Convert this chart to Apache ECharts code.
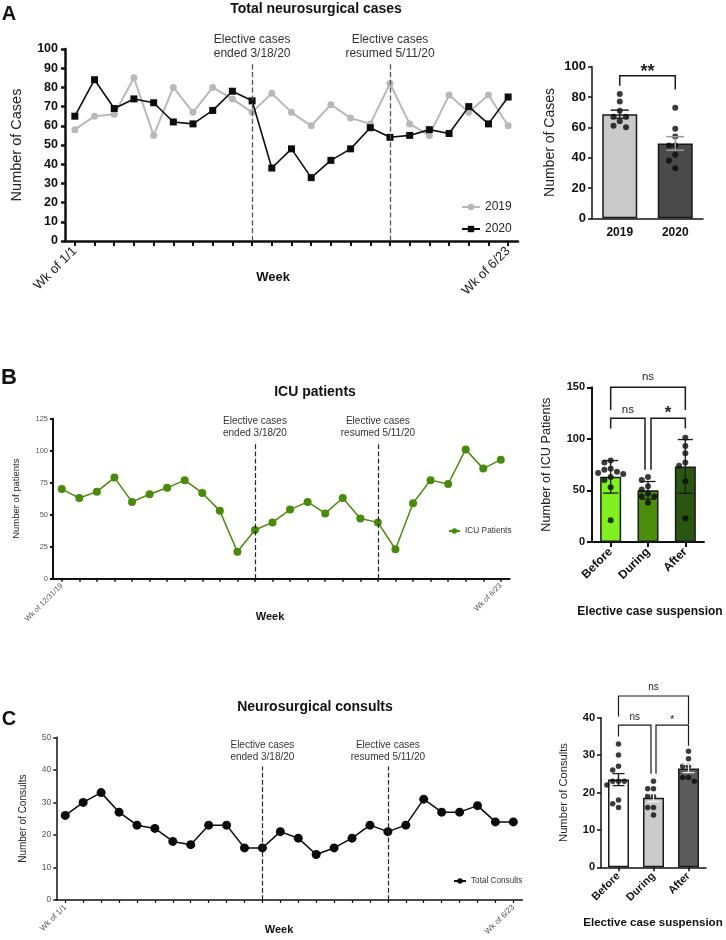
<!DOCTYPE html>
<html><head><meta charset="utf-8">
<script src="https://cdn.jsdelivr.net/npm/echarts@6.0.0/dist/echarts.min.js"></script>
<style>html,body{margin:0;padding:0;background:#fff}#chart{width:726px;height:940px}</style>
</head><body><div id="chart"></div>
<script>
// ---------------- DATA ----------------
const weekLabelsA = ['Wk of 1/1', 'Wk of 6/23'];
const cases2019 = [58, 65, 66, 85, 55, 80, 67, 80, 74, 67, 77, 67, 60, 71, 64, 61, 82, 61, 55, 76, 67, 76, 60];
const cases2020 = [65, 84, 69, 74, 72, 62, 61, 68, 78, 73, 38, 48, 33, 42, 48, 59, 54, 55, 58, 56, 70, 61, 75];
const eventWeeksA = [9, 16];
const yearCategories = ['2019', '2020'];

const weekLabelsB = ['Wk of 12/31/19', 'Wk of 6/23'];
const icuPatients = [70, 63, 68, 79, 60, 66, 71, 77, 67, 53, 21, 38, 44, 54, 60, 51, 63, 47, 44, 23, 59, 77, 74, 101, 86, 93];

const weekLabelsC = ['Wk of 1/1', 'Wk of 6/23'];
const totalConsults = [26, 30, 33, 27, 23, 22, 18, 17, 23, 23, 16, 16, 21, 19, 14, 16, 19, 23, 21, 23, 31, 27, 27, 29, 24, 24];
const eventWeeksBC = [11, 18];

const phaseCategories = ['Before', 'During', 'After'];
const eventLabels = ['Elective cases\nended 3/18/20', 'Elective cases\nresumed 5/11/20'];

// ---------------- HELPERS ----------------
const FONT = '"Liberation Sans", Arial, Helvetica, sans-serif';
const mean = a => a.reduce((s, v) => s + v, 0) / a.length;
const sd = a => { const m = mean(a); return Math.sqrt(a.reduce((s, v) => s + (v - m) ** 2, 0) / (a.length - 1)); };
const sem = a => sd(a) / Math.sqrt(a.length);

function weekCats(n, labels) {
  return Array.from({ length: n }, (_, i) => i === 0 ? labels[0] : (i === n - 1 ? labels[1] : 'Week ' + (i + 1)));
}
const catsA = weekCats(cases2019.length, weekLabelsA);
const catsB = weekCats(icuPatients.length, weekLabelsB);
const catsC = weekCats(totalConsults.length, weekLabelsC);

const groupsA = [cases2019.slice(eventWeeksA[0], eventWeeksA[1] + 1), cases2020.slice(eventWeeksA[0], eventWeeksA[1] + 1)];
const splitPhases = (arr, ev) => [arr.slice(0, ev[0]), arr.slice(ev[0], ev[1] + 1), arr.slice(ev[1] + 1)];
const groupsB = splitPhases(icuPatients, eventWeeksBC);
const groupsC = splitPhases(totalConsults, eventWeeksBC);

function swarmOffsets(vals, pxPerUnit, diam) {
  const placed = [], offs = [];
  const order = vals.map((v, i) => i).sort((a, b) => vals[b] - vals[a]);
  const cands = [0, -1, 1, -2, 2, -3, 3].map(k => k * diam * 0.95);
  order.forEach(i => {
    const y = vals[i] * pxPerUnit;
    let chosen = cands[cands.length - 1];
    for (const c of cands) {
      if (placed.every(p => Math.hypot(p.x - c, p.y - y) >= diam * 0.95)) { chosen = c; break; }
    }
    placed.push({ x: chosen, y }); offs[i] = chosen;
  });
  return offs;
}

function weekXAxis(gridIndex, cats, st) {
  return {
    type: 'category', gridIndex, data: cats, boundaryGap: true,
    axisLine: { show: true, onZero: false, lineStyle: { color: '#111', width: st.lw } },
    axisTick: { show: true, alignWithLabel: true, interval: 0, length: st.tick, lineStyle: { color: '#111', width: st.tw } },
    axisLabel: { show: true, interval: (i) => i === 0 || i === cats.length - 1, rotate: 45, fontSize: st.fs, color: st.lc, fontFamily: FONT, margin: st.margin },
    splitLine: { show: false }
  };
}
function catXAxis(gridIndex, cats, st) {
  return {
    type: 'category', gridIndex, data: cats, boundaryGap: true,
    axisLine: { show: true, onZero: false, lineStyle: { color: '#111', width: st.lw } },
    axisTick: { show: st.tick > 0, alignWithLabel: true, length: st.tick, lineStyle: { color: '#111', width: st.lw } },
    axisLabel: { interval: 0, rotate: st.rotate, fontSize: st.fs, fontWeight: 'bold', color: '#111', fontFamily: FONT, margin: st.margin },
    splitLine: { show: false }
  };
}
function valYAxis(gridIndex, min, max, interval, st) {
  return {
    type: 'value', gridIndex, min, max, interval,
    axisLine: { show: true, lineStyle: { color: '#111', width: st.lw } },
    axisTick: { show: true, length: st.tick, lineStyle: { color: '#111', width: st.lw } },
    axisLabel: { fontSize: st.fs, fontWeight: st.fw, color: st.lc, fontFamily: FONT, margin: st.margin },
    splitLine: { show: false },
    name: st.name, nameLocation: 'middle', nameGap: st.nameGap,
    nameTextStyle: { fontSize: st.nameFs, color: '#222', fontFamily: FONT }
  };
}
function eventMarkLine(ev, top, st) {
  return {
    silent: true, symbol: ['none', 'none'], animation: false,
    lineStyle: { type: 'dashed', color: st.color, width: st.width },
    label: { show: true, position: 'end', distance: st.dist, fontSize: st.fs, lineHeight: st.lh, color: '#333', fontFamily: FONT },
    emphasis: { disabled: true },
    data: ev.map((w, k) => [{ coord: [w, 0], label: { formatter: eventLabels[k] } }, { coord: [w, top] }])
  };
}
function barSeries(ax, groups, colors, width) {
  return {
    type: 'bar', name: 'bar' + ax, xAxisIndex: ax, yAxisIndex: ax, barWidth: width, z: 2, silent: true,
    data: groups.map((g, i) => ({ value: mean(g), itemStyle: { color: colors[i] } })),
    itemStyle: { borderColor: '#1a1a1a', borderWidth: 1.5 }
  };
}
function dotSeries(ax, groups, pxPerUnit, size) {
  const data = [];
  groups.forEach((g, gi) => {
    const offs = swarmOffsets(g, pxPerUnit, size + 0.6);
    g.forEach((v, i) => data.push({ value: [gi, v], symbolOffset: [offs[i], 0] }));
  });
  return { type: 'scatter', name: 'dots' + ax, xAxisIndex: ax, yAxisIndex: ax, symbol: 'circle', symbolSize: size, z: 3, silent: true,
    itemStyle: { color: '#0a0a0a' }, data };
}
function errSeries(ax, groups, errFn, colors, capHalf, lw) {
  return {
    type: 'custom', name: 'err' + ax, xAxisIndex: ax, yAxisIndex: ax, z: 4, clip: false, silent: true,
    data: groups.map((g, i) => [i, mean(g), errFn(g)]),
    renderItem: (params, api) => {
      const i = api.value(0), m = api.value(1), e = api.value(2);
      const t = api.coord([i, m + e]), b = api.coord([i, m - e]);
      const stl = { stroke: colors[params.dataIndex], lineWidth: lw };
      return { type: 'group', children: [
        { type: 'line', shape: { x1: t[0], y1: t[1], x2: b[0], y2: b[1] }, style: stl },
        { type: 'line', shape: { x1: t[0] - capHalf, y1: t[1], x2: t[0] + capHalf, y2: t[1] }, style: stl },
        { type: 'line', shape: { x1: b[0] - capHalf, y1: b[1], x2: b[0] + capHalf, y2: b[1] }, style: stl }
      ] };
    }
  };
}
function bracketSeries(ax, list, lw) {
  return {
    type: 'custom', name: 'br' + ax, xAxisIndex: ax, yAxisIndex: ax, z: 5, clip: false, silent: true,
    data: list.map(b => [b.from, b.top]),
    renderItem: (params, api) => {
      const b = list[params.dataIndex];
      const pL = api.coord([b.from, b.top]), pR = api.coord([b.to, b.top]);
      const x1 = pL[0] + (b.dxL || 0), x2 = pR[0] + (b.dxR || 0), yT = pL[1];
      const yl = api.coord([b.from, b.left])[1], yr = api.coord([b.to, b.right])[1];
      return { type: 'group', children: [
        { type: 'polyline', shape: { points: [[x1, yl], [x1, yT], [x2, yT], [x2, yr]] }, style: { stroke: '#1a1a1a', lineWidth: lw, fill: 'none' } },
        { type: 'text', x: (x1 + x2) / 2, y: yT - b.gap, style: { text: b.text, fill: '#222', fontSize: b.fs, fontWeight: b.fw, fontFamily: FONT, align: 'center', verticalAlign: 'middle' } }
      ] };
    }
  };
}
function txt(text, x, y, size, weight) {
  return { type: 'text', x, y, silent: true,
    style: { text, fill: '#111', fontSize: size, fontWeight: weight, fontFamily: FONT, align: 'center', verticalAlign: 'middle', textAlign: 'center', textVerticalAlign: 'middle' } };
}

// ---------------- OPTION ----------------
const option = {
  animation: false,
  backgroundColor: '#ffffff',
  textStyle: { fontFamily: FONT },
  grid: [
    { left: 65, top: 49, width: 453, height: 192 },        // A line
    { left: 592, top: 66.7, width: 111, height: 151.6 },   // A bar
    { left: 53, top: 418.7, width: 456.6, height: 160 },   // B line
    { left: 592, top: 387.3, width: 112, height: 154.7 },  // B bar
    { left: 56.3, top: 737.3, width: 466, height: 162.7 }, // C line
    { left: 601, top: 717.7, width: 105, height: 149.6 }   // C bar
  ],
  xAxis: [
    weekXAxis(0, catsA, { lw: 2.5, tick: 5, tw: 2, fs: 13, lc: '#222', margin: 8 }),
    catXAxis(1, yearCategories, { lw: 1.5, tick: 0, fs: 12, rotate: 0, margin: 8 }),
    weekXAxis(2, catsB, { lw: 2, tick: 3, tw: 1.5, fs: 7.5, lc: '#555', margin: 6 }),
    catXAxis(3, phaseCategories, { lw: 2, tick: 5, fs: 12, rotate: 45, margin: 8 }),
    weekXAxis(4, catsC, { lw: 1.5, tick: 3, tw: 1.2, fs: 8, lc: '#555', margin: 6 }),
    catXAxis(5, phaseCategories, { lw: 1.5, tick: 4, fs: 11, rotate: 45, margin: 7 })
  ],
  yAxis: [
    valYAxis(0, 0, 100, 10, { lw: 2.5, tick: 4, fs: 12.5, fw: 'bold', lc: '#111', margin: 7, name: 'Number of Cases', nameGap: 41, nameFs: 14.5 }),
    valYAxis(1, 0, 100, 20, { lw: 1.5, tick: 4, fs: 13, fw: 'bold', lc: '#111', margin: 6, name: 'Number of Cases', nameGap: 35, nameFs: 14 }),
    valYAxis(2, 0, 125, 25, { lw: 2, tick: 3, fs: 7.5, fw: 'normal', lc: '#555', margin: 5, name: 'Number of patients', nameGap: 32, nameFs: 9.5 }),
    valYAxis(3, 0, 150, 50, { lw: 2, tick: 5, fs: 11, fw: 'bold', lc: '#111', margin: 7, name: 'Number of ICU Patients', nameGap: 39, nameFs: 12.7 }),
    valYAxis(4, 0, 50, 10, { lw: 1.5, tick: 3, fs: 8.5, fw: 'normal', lc: '#555', margin: 5, name: 'Number of Consults', nameGap: 28, nameFs: 10 }),
    valYAxis(5, 0, 40, 10, { lw: 1.5, tick: 4, fs: 11, fw: 'bold', lc: '#111', margin: 6, name: 'Number of Consults', nameGap: 32, nameFs: 11.2 })
  ],
  legend: [
    { data: ['2019', '2020'], orient: 'vertical', left: 456, top: 196, itemWidth: 18, itemHeight: 8, itemGap: 10, selectedMode: false,
      textStyle: { fontSize: 12, color: '#222', fontFamily: FONT } },
    { data: ['ICU Patients'], left: 443, top: 522, itemWidth: 11, itemHeight: 7, selectedMode: false,
      textStyle: { fontSize: 8.3, color: '#333', fontFamily: FONT } },
    { data: ['Total Consults'], left: 448, top: 872, itemWidth: 12, itemHeight: 7, selectedMode: false,
      textStyle: { fontSize: 8.2, color: '#333', fontFamily: FONT } }
  ],
  graphic: { elements: [
    txt('A', 9, 14, 20, 'bold'),
    txt('B', 9, 378, 22, 'bold'),
    txt('C', 9, 719, 20, 'bold'),
    txt('Total neurosurgical cases', 316, 9, 14, 'bold'),
    txt('ICU patients', 315, 392, 14, 'bold'),
    txt('Neurosurgical consults', 315, 707, 14, 'bold'),
    txt('Week', 273, 277, 13, 'bold'),
    txt('Week', 270, 617, 11, 'bold'),
    txt('Week', 279, 930, 11, 'bold'),
    txt('Elective case suspension', 650, 612, 12, 'bold'),
    txt('Elective case suspension', 653, 923, 11.5, 'bold')
  ] },
  series: [
    // ---- A line ----
    { type: 'line', name: '2019', xAxisIndex: 0, yAxisIndex: 0, data: cases2019, symbol: 'circle', symbolSize: 7,
      itemStyle: { color: '#b8b8b8' }, lineStyle: { color: '#b8b8b8', width: 2 }, z: 3 },
    { type: 'line', name: '2020', xAxisIndex: 0, yAxisIndex: 0, data: cases2020, symbol: 'rect', symbolSize: 7,
      itemStyle: { color: '#0d0d0d' }, lineStyle: { color: '#0d0d0d', width: 1.6 }, z: 4,
      markLine: eventMarkLine(eventWeeksA, 92, { color: '#555', width: 1.3, dist: 4, fs: 12, lh: 14 }) },
    // ---- A bar ----
    barSeries(1, groupsA, ['#c9c9c9', '#4a4a4a'], 35),
    dotSeries(1, groupsA, 151.6 / 100, 6),
    errSeries(1, groupsA, sem, ['#222', '#9a9a9a'], 9, 1.5),
    bracketSeries(1, [{ from: 0, to: 1, top: 94, left: 87.5, right: 85, text: '**', fs: 18, fw: 'bold', gap: 4 }], 1.5),
    // ---- B line ----
    { type: 'line', name: 'ICU Patients', xAxisIndex: 2, yAxisIndex: 2, data: icuPatients, symbol: 'circle', symbolSize: 8,
      itemStyle: { color: '#4a8a0b' }, lineStyle: { color: '#4a8a0b', width: 1.5 }, z: 3,
      markLine: eventMarkLine(eventWeeksBC, 107, { color: '#222', width: 1.2, dist: 2, fs: 10, lh: 12.5 }) },
    // ---- B bar ----
    barSeries(3, groupsB, ['#80f020', '#4a8e0a', '#2b5612'], 21),
    dotSeries(3, groupsB, 154.7 / 150, 6),
    errSeries(3, groupsB, sd, ['#1a1a1a', '#1a1a1a', '#1a1a1a'], 7.5, 1.3),
    bracketSeries(3, [
      { from: 0, to: 2, top: 150, left: 128, right: 128, text: 'ns', fs: 11.5, fw: 'normal', gap: 10 },
      { from: 0, to: 1, top: 120, left: 110, right: 70, dxR: -3, text: 'ns', fs: 11.5, fw: 'normal', gap: 8.5 },
      { from: 1, to: 2, top: 120, left: 70, right: 110, dxL: 3, text: '*', fs: 17, fw: 'bold', gap: 5 }
    ], 1.5),
    // ---- C line ----
    { type: 'line', name: 'Total Consults', xAxisIndex: 4, yAxisIndex: 4, data: totalConsults, symbol: 'circle', symbolSize: 9,
      itemStyle: { color: '#0a0a0a' }, lineStyle: { color: '#0a0a0a', width: 1.5 }, z: 3,
      markLine: eventMarkLine(eventWeeksBC, 41, { color: '#222', width: 1.2, dist: 3, fs: 10, lh: 12 }) },
    // ---- C bar ----
    barSeries(5, groupsC, ['#ffffff', '#cbcbcb', '#5c5c5c'], 21),
    dotSeries(5, groupsC, 149.6 / 40, 5.5),
    errSeries(5, groupsC, sem, ['#1a1a1a', '#f2f2f2', '#e6e6e6'], 6, 1.3),
    bracketSeries(5, [
      { from: 0, to: 2, top: 45.8, left: 40.3, right: 38.3, text: 'ns', fs: 10, fw: 'normal', gap: 9 },
      { from: 0, to: 1, top: 38, left: 35, right: 25, dxR: -2.5, text: 'ns', fs: 10, fw: 'normal', gap: 7.5 },
      { from: 1, to: 2, top: 38, left: 25, right: 32.5, dxL: 2.5, text: '*', fs: 11, fw: 'normal', gap: 5 }
    ], 1.2)
  ]
};

const chart = echarts.init(document.getElementById('chart'), null, { renderer: 'canvas', width: 726, height: 940 });
chart.setOption(option);
</script>
</body></html>
